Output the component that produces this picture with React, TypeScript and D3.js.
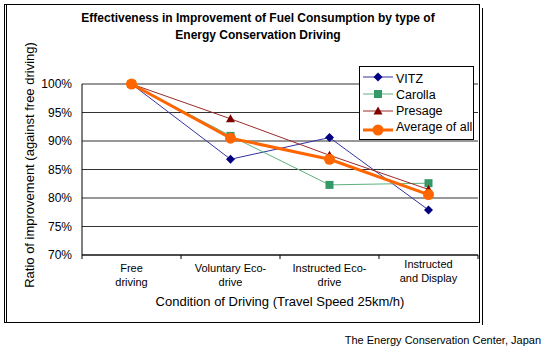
import React from "react";
import * as d3 from "d3";

const categories = [
  ["Free", "driving"],
  ["Voluntary Eco-", "drive"],
  ["Instructed Eco-", "drive"],
  ["Instructed", "and Display"],
];
const yTicks = [0.7, 0.75, 0.8, 0.85, 0.9, 0.95, 1.0];
const vitz = [1.0, 0.868, 0.906, 0.779];
const carolla = [1.0, 0.909, 0.823, 0.826];
const presage = [1.0, 0.939, 0.875, 0.815];
const average = [1.0, 0.905, 0.868, 0.806];

const seriesNames = ["VITZ", "Carolla", "Presage", "Average of all"];

export default function App() {
  const x = d3.scaleBand().domain(d3.range(4).map(String)).range([82, 478]);
  const y = d3.scaleLinear().domain([0.7, 1.0]).range([255, 84]);
  const cx = (i: number) => (x(String(i)) as number) + x.bandwidth() / 2;
  const line = d3.line<number>().x((_, i) => cx(i)).y((v) => y(v));
  const font = "'Liberation Sans', Arial, sans-serif";

  const series = [
    { name: seriesNames[0], data: vitz, stroke: "#3333a0", mark: "#000080", w: 1, shape: "diamond" },
    { name: seriesNames[1], data: carolla, stroke: "#5fb07f", mark: "#339966", w: 1, shape: "square" },
    { name: seriesNames[2], data: presage, stroke: "#9b2a2a", mark: "#800000", w: 1, shape: "triangle" },
    { name: seriesNames[3], data: average, stroke: "#ff6600", mark: "#ff6600", w: 3, shape: "circle" },
  ];

  const marker = (shape: string, px: number, py: number, color: string, key: string) => {
    if (shape === "diamond")
      return <path key={key} d={`M${px},${py - 4.5}L${px + 4.5},${py}L${px},${py + 4.5}L${px - 4.5},${py}Z`} fill={color} />;
    if (shape === "square")
      return <rect key={key} x={px - 4} y={py - 4} width={8} height={8} fill={color} />;
    if (shape === "triangle")
      return <path key={key} d={`M${px},${py - 4.5}L${px + 4.5},${py + 3.5}L${px - 4.5},${py + 3.5}Z`} fill={color} />;
    return <circle key={key} cx={px} cy={py} r={5.5} fill={color} />;
  };

  const legendLineY = [77, 94, 111, 130];
  const legendTextY = [83, 99, 115, 131];

  return (
    <svg width={547} height={353} style={{ position: "absolute", left: 0, top: 0, background: "#fff" }} fontFamily={font}>
      {/* frame */}
      <rect x={4.5} y={4.5} width={475} height={318} fill="none" stroke="#000" />
      <line x1={6.5} y1={4.5} x2={6.5} y2={322.5} stroke="#000" />
      <line x1={482.5} y1={8} x2={482.5} y2={325} stroke="#000" />

      {/* title */}
      <text x={258} y={22} textAnchor="middle" fontSize={12} fontWeight="bold">
        Effectiveness in Improvement of Fuel Consumption by type of
      </text>
      <text x={258} y={39} textAnchor="middle" fontSize={12} fontWeight="bold">
        Energy Conservation Driving
      </text>

      {/* gridlines */}
      {yTicks.map((t) => (
        <line key={t} x1={82} x2={478} y1={y(t)} y2={y(t)} stroke="#333" strokeWidth={1.2} />
      ))}
      {/* axes */}
      <line x1={82} x2={82} y1={84} y2={255} stroke="#000" />
      <line x1={82} x2={478} y1={255} y2={255} stroke="#000" />
      {d3.range(5).map((i) => {
        const xx = 82 + i * x.bandwidth();
        return <line key={i} x1={xx} x2={xx} y1={255} y2={259} stroke="#000" />;
      })}
      {yTicks.map((t) => (
        <text key={t} x={72} y={y(t) + 4} textAnchor="end" fontSize={12}>
          {Math.round(t * 100)}%
        </text>
      ))}
      {categories.map((c, i) => (
        <text key={i} textAnchor="middle" fontSize={11}>
          <tspan x={cx(i)} y={i === 3 ? 268 : 272}>{c[0]}</tspan>
          <tspan x={cx(i)} y={i === 3 ? 282 : 286}>{c[1]}</tspan>
        </text>
      ))}
      <text x={280} y={306} textAnchor="middle" fontSize={13}>
        Condition of Driving (Travel Speed 25km/h)
      </text>
      <text transform="translate(34,165) rotate(-90)" textAnchor="middle" fontSize={13}>
        Ratio of improvement (against free driving)
      </text>

      {/* series */}
      {series.map((s) => (
        <g key={s.name}>
          <path d={line(s.data) as string} fill="none" stroke={s.stroke} strokeWidth={s.w} />
          {s.data.map((v, i) => marker(s.shape, cx(i), y(v), s.mark, s.name + i))}
        </g>
      ))}

      {/* legend */}
      <rect x={359.5} y={66.5} width={114} height={73} fill="#fff" stroke="#000" />
      {series.map((s, i) => (
        <g key={s.name}>
          <line x1={363} x2={393} y1={legendLineY[i]} y2={legendLineY[i]} stroke={s.stroke} strokeWidth={s.w} />
          {marker(s.shape, 378, legendLineY[i], s.mark, "lg" + i)}
          <text x={396} y={legendTextY[i]} fontSize={12.5}>{s.name}</text>
        </g>
      ))}

      <text x={541} y={344} textAnchor="end" fontSize={11}>
        The Energy Conservation Center, Japan
      </text>
    </svg>
  );
}
